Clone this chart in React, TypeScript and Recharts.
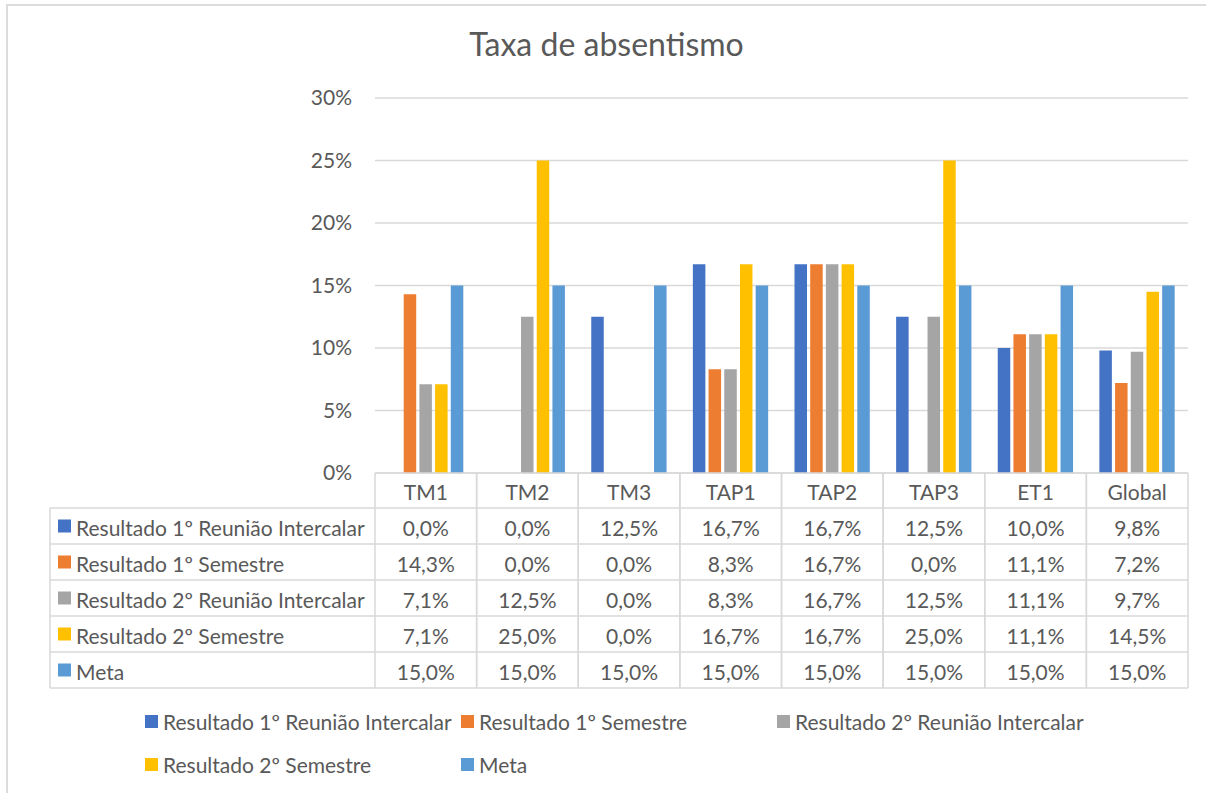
import React from 'react';
import { BarChart, Bar, XAxis, YAxis, CartesianGrid } from 'recharts';

const categories = ['TM1', 'TM2', 'TM3', 'TAP1', 'TAP2', 'TAP3', 'ET1', 'Global'];
const seriesNames = [
  'Resultado 1º Reunião Intercalar',
  'Resultado 1º Semestre',
  'Resultado 2º Reunião Intercalar',
  'Resultado 2º Semestre',
  'Meta',
];
const reuniao1 = [0.0, 0.0, 12.5, 16.7, 16.7, 12.5, 10.0, 9.8];
const semestre1 = [14.3, 0.0, 0.0, 8.3, 16.7, 0.0, 11.1, 7.2];
const reuniao2 = [7.1, 12.5, 0.0, 8.3, 16.7, 12.5, 11.1, 9.7];
const semestre2 = [7.1, 25.0, 0.0, 16.7, 16.7, 25.0, 11.1, 14.5];
const meta = [15.0, 15.0, 15.0, 15.0, 15.0, 15.0, 15.0, 15.0];
const yTicks = [0, 5, 10, 15, 20, 25, 30];

const seriesValues = [reuniao1, semestre1, reuniao2, semestre2, meta];
const seriesKeys = ['s0', 's1', 's2', 's3', 's4'];
const colors = ['#4472C4', '#ED7D31', '#A5A5A5', '#FFC000', '#5B9BD5'];

const data = categories.map((cat, i) => {
  const row: any = { cat };
  seriesKeys.forEach((k, j) => (row[k] = seriesValues[j][i]));
  return row;
});

const FONT = 'Lato, "Open Sans", sans-serif';
const TEXT = '#595959';
const LINE = '#D9D9D9';
const FS = 21;

const W = 1206;
const H = 793;
const PLOT_LEFT = 375;
const PLOT_RIGHT = 1188;
const PLOT_TOP = 98;
const PLOT_BOTTOM = 473;
const HEADER_H = 35;
const ROW_H = 36;
const TABLE_H = HEADER_H + ROW_H * seriesNames.length;
const LABEL_LEFT = 50;
const COL_W = (PLOT_RIGHT - PLOT_LEFT) / categories.length;

const fmt = (v: number) => v.toFixed(1).replace('.', ',') + '%';

const TableTick = (props: any) => {
  const { x, y, payload } = props;
  const idx = payload.index;
  const left = x - COL_W / 2;
  const right = x + COL_W / 2;
  const els: any[] = [];
  els.push(
    <text key="h" x={x} y={y + HEADER_H / 2 + 1} textAnchor="middle" dominantBaseline="central" fill={TEXT} fontSize={FS} fontFamily={FONT}>
      {payload.value}
    </text>
  );
  els.push(<line key="vl" x1={left} x2={left} y1={y} y2={y + TABLE_H} stroke={LINE} strokeWidth={1.5} />);
  els.push(<line key="vr" x1={right} x2={right} y1={y} y2={y + TABLE_H} stroke={LINE} strokeWidth={1.5} />);
  seriesNames.forEach((name, j) => {
    const top = y + HEADER_H + j * ROW_H;
    els.push(<line key={'hl' + j} x1={left} x2={right} y1={top} y2={top} stroke={LINE} strokeWidth={1.5} />);
    els.push(
      <text key={'t' + j} x={x} y={top + ROW_H / 2 + 1} textAnchor="middle" dominantBaseline="central" fill={TEXT} fontSize={FS} fontFamily={FONT}>
        {fmt(seriesValues[j][idx])}
      </text>
    );
  });
  els.push(<line key="hb" x1={left} x2={right} y1={y + TABLE_H} y2={y + TABLE_H} stroke={LINE} strokeWidth={1.5} />);
  if (idx === 0) {
    els.push(<line key="lv" x1={LABEL_LEFT} x2={LABEL_LEFT} y1={y + HEADER_H} y2={y + TABLE_H} stroke={LINE} strokeWidth={1.5} />);
    seriesNames.forEach((name, j) => {
      const top = y + HEADER_H + j * ROW_H;
      els.push(<line key={'lh' + j} x1={LABEL_LEFT} x2={left} y1={top} y2={top} stroke={LINE} strokeWidth={1.5} />);
      els.push(<rect key={'lr' + j} x={LABEL_LEFT + 8} y={top + ROW_H / 2 - 6.5} width={13} height={13} fill={colors[j]} />);
      els.push(
        <text key={'lt' + j} x={LABEL_LEFT + 26} y={top + ROW_H / 2 + 1} dominantBaseline="central" fill={TEXT} fontSize={FS} fontFamily={FONT}>
          {name}
        </text>
      );
    });
    els.push(<line key="lb" x1={LABEL_LEFT} x2={left} y1={y + TABLE_H} y2={y + TABLE_H} stroke={LINE} strokeWidth={1.5} />);
  }
  return <g>{els}</g>;
};

export default function App() {
  return (
    <div style={{ position: 'relative', width: W, height: H, overflow: 'hidden', background: '#fff' }}>
      <style>{'body{margin:0;overflow:hidden;}'}</style>
      <div style={{ position: 'absolute', left: 6, top: 4, width: W, height: H, borderTop: '2px solid #DCDCDC', borderLeft: '2px solid #DCDCDC', boxSizing: 'border-box' }} />
      <div style={{ position: 'absolute', left: 0, top: 22, width: 1213, textAlign: 'center', fontFamily: FONT, fontSize: 32, color: TEXT, lineHeight: '44px' }}>
        Taxa de absentismo
      </div>
      <div style={{ position: 'absolute', left: 0, top: 0 }}>
        <BarChart
          width={W}
          height={H}
          data={data}
          margin={{ top: PLOT_TOP, right: W - PLOT_RIGHT, bottom: H - PLOT_BOTTOM - TABLE_H, left: PLOT_LEFT - 80 }}
          barGap={3.2}
          barSize={12.5}
        >
          <CartesianGrid vertical={false} stroke={LINE} strokeWidth={1.5} />
          <XAxis
            dataKey="cat"
            height={TABLE_H}
            axisLine={{ stroke: LINE, strokeWidth: 1.5 }}
            tickLine={false}
            tickSize={0}
            tickMargin={0}
            interval={0}
            tick={<TableTick />}
          />
          <YAxis
            width={80}
            domain={[0, 30]}
            ticks={yTicks}
            axisLine={false}
            tickLine={false}
            tickSize={0}
            tickMargin={23}
            tickFormatter={(v: number) => `${v}%`}
            tick={{ fill: TEXT, fontSize: FS, fontFamily: FONT }}
          />
          {seriesKeys.map((k, j) => (
            <Bar key={k} dataKey={k} name={seriesNames[j]} fill={colors[j]} isAnimationActive={false} />
          ))}
        </BarChart>
      </div>
      <div style={{ position: 'absolute', left: 145, top: 700, width: 960, display: 'grid', gridTemplateColumns: '316px 316px 316px', gridAutoRows: '43px', fontFamily: FONT, fontSize: FS, color: TEXT }}>
        {seriesNames.map((name, j) => (
          <div key={name} style={{ display: 'flex', alignItems: 'center', whiteSpace: 'nowrap' }}>
            <span style={{ display: 'inline-block', width: 13, height: 13, background: colors[j], marginRight: 5 }} />
            <span>{name}</span>
          </div>
        ))}
      </div>
    </div>
  );
}
